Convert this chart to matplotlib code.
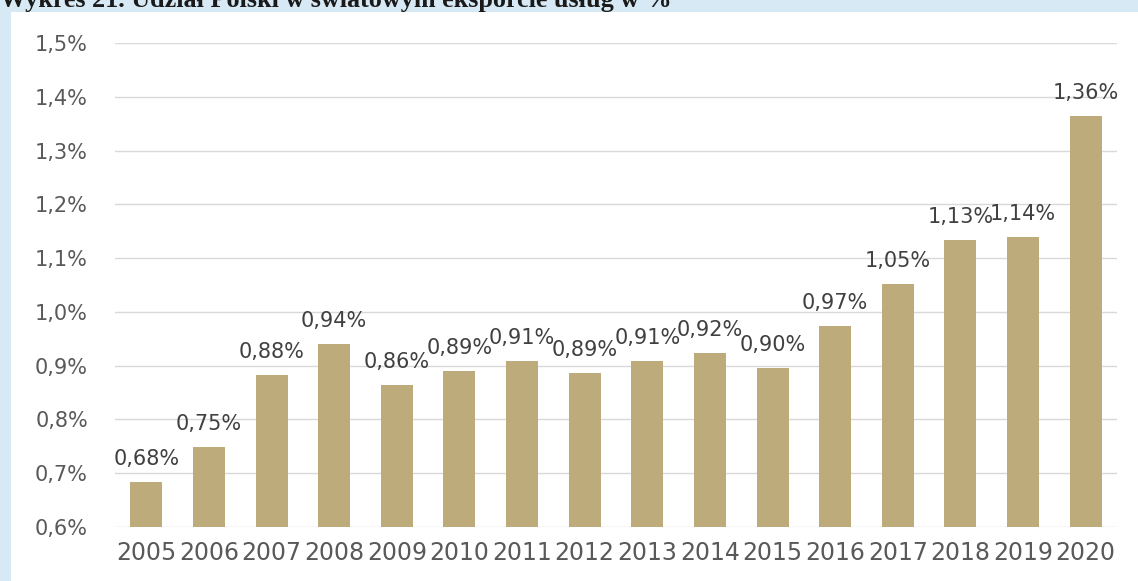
import matplotlib
matplotlib.use("Agg")
import matplotlib.pyplot as plt
from matplotlib.patches import Rectangle

years = ["2005", "2006", "2007", "2008", "2009", "2010", "2011", "2012",
         "2013", "2014", "2015", "2016", "2017", "2018", "2019", "2020"]
share = [0.684, 0.749, 0.882, 0.941, 0.864, 0.891, 0.909, 0.886,
         0.908, 0.924, 0.896, 0.974, 1.052, 1.133, 1.139, 1.364]
yticks = [0.6, 0.7, 0.8, 0.9, 1.0, 1.1, 1.2, 1.3, 1.4, 1.5]
title = "Wykres 21. Udział Polski w światowym eksporcie usług w %"

W, H = 1138, 581
fig = plt.figure(figsize=(W / 100, H / 100), dpi=100)
fig.patch.set_facecolor("#d6e9f5")
fig.patches.append(Rectangle((11 / W, 0), 1 - 11 / W, 1 - 12 / H,
                             transform=fig.transFigure, facecolor="white",
                             edgecolor="none", zorder=-10))

t = fig.text(0.0, 1 - 7 / H, title, fontsize=15, fontweight="bold",
             family="Liberation Serif", color="#1a1a1a", va="baseline", ha="left")
fig.canvas.draw()
bb = t.get_window_extent()
t.set_fontsize(15 * 672 / bb.width)

ax = fig.add_axes([115 / W, 1 - 527 / H, (1117 - 115) / W, (527 - 43) / H])
ax.set_zorder(5)
ax.set_facecolor("none")
x = list(range(len(years)))
ax.bar(x, share, width=0.51, bottom=0, color="#bdab7b", zorder=2)
ax.set_xlim(-0.5, len(years) - 0.5)
ax.set_ylim(0.6, 1.5)
ax.set_yticks(yticks)
ax.set_yticklabels([f"{v:.1f}%".replace(".", ",") for v in yticks])
ax.set_xticks(x)
ax.set_xticklabels(years)
ax.grid(axis="y", color="#d9d9d9", lw=1.0, zorder=1)
ax.set_axisbelow(True)
for s in ax.spines.values():
    s.set_visible(False)
ax.tick_params(axis="both", length=0)
ax.tick_params(axis="y", labelsize=15, labelcolor="#595959", pad=19.5)
ax.tick_params(axis="x", labelsize=17, labelcolor="#595959", pad=10)

for xi, v in zip(x, share):
    ax.annotate(f"{v:.2f}%".replace(".", ","), (xi, v), xytext=(0, 17),
                textcoords="offset pixels", ha="center", va="baseline",
                fontsize=15, color="#404040", zorder=3)

fig.savefig("out.png", dpi=100, facecolor=fig.get_facecolor())
